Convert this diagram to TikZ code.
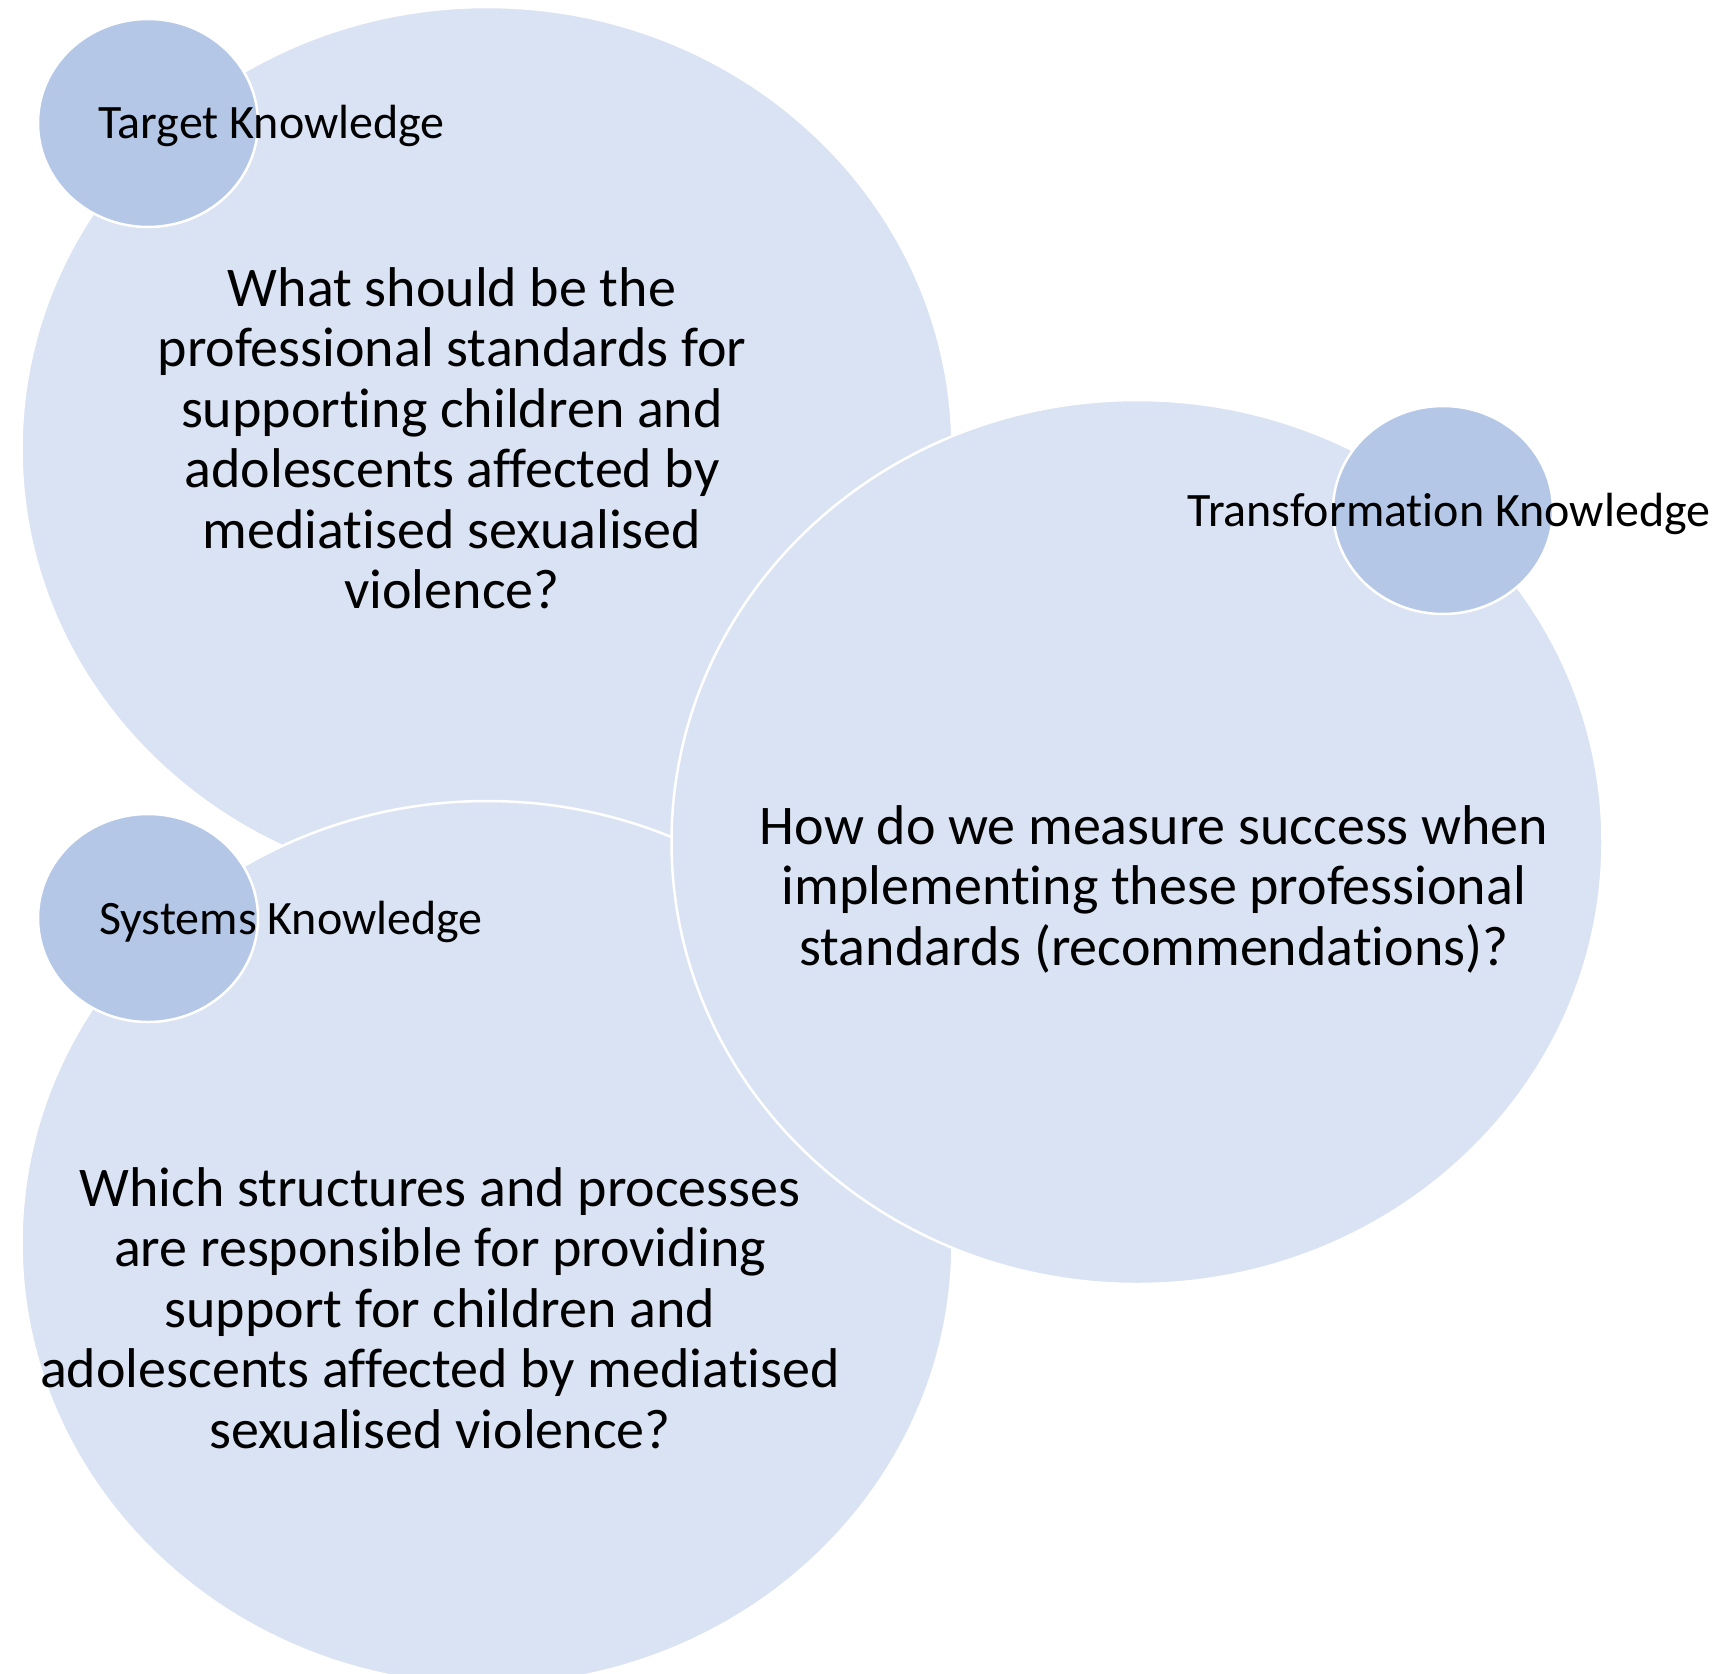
\documentclass[tikz,border=0pt]{standalone}
\usepackage{fontspec}
\setmainfont{Carlito}[Ligatures={NoCommon}]
\usetikzlibrary{shapes.geometric}
\definecolor{bigfill}{HTML}{DAE3F3}
\definecolor{smallfill}{HTML}{B4C7E7}
\tikzset{
  bigell/.style={ellipse, fill=bigfill, draw=white, line width=2.5pt, minimum width=931pt, minimum height=884pt, inner sep=0pt},
  smallell/.style={ellipse, fill=smallfill, draw=white, line width=2.5pt, minimum width=220pt, minimum height=208pt, inner sep=0pt},
  bigtext/.style={align=center, inner sep=0pt, font=\fontsize{56}{60.5}\selectfont},
  smalltext/.style={inner sep=0pt, font=\fontsize{48}{56}\selectfont}
}
\begin{document}
\begin{tikzpicture}[x=1pt,y=-1pt]
\useasboundingbox (0,0) rectangle (1717,1674);
\clip (0,0) rectangle (1717,1674);
\fill[white] (0,0) rectangle (1717,1674);
% large ellipses (stacking: target, systems, transformation)
\node[bigell] (bigT) at (487,449) {};
\node[bigell] (bigS) at (487,1243) {};
\node[bigell] (bigR) at (1137,842) {};
% small ellipses
\node[smallell] (smT) at (148,123) {};
\node[smallell] (smS) at (148,918) {};
\node[smallell] (smR) at (1443,510) {};
% labels
\node[smalltext, anchor=base west] (labT) at (98,138) {Target Knowledge};
\node[smalltext, anchor=base west] (labS) at (99,934) {Systems Knowledge};
\node[smalltext, anchor=base] (labR) at (1449,526) {Transformation Knowledge};
% questions
\node[bigtext] (qT) at (452,438) {What should be the\\professional standards for\\supporting children and\\adolescents affected by\\mediatised sexualised\\violence?};
\node[bigtext] (qR) at (1154,889) {How do we measure success when\\implementing these professional\\standards (recommendations)?};
\node[bigtext] (qS) at (440,1308) {Which structures and processes\\are responsible for providing\\support for children and\\adolescents affected by mediatised\\sexualised violence?};
\end{tikzpicture}
\end{document}
